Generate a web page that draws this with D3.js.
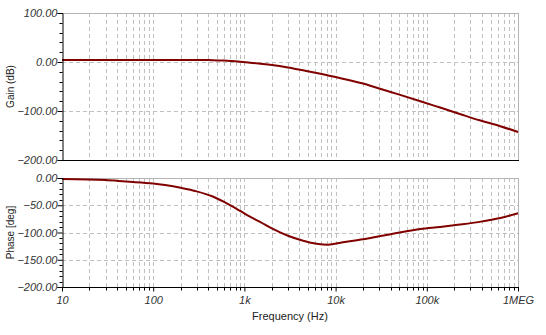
<!DOCTYPE html>
<html><head><meta charset="utf-8">
<script src="https://cdn.jsdelivr.net/npm/d3@7"></script>
<style>
body{margin:0;background:#fff;}
svg{display:block;font-family:"Liberation Sans",Arial,sans-serif;}
</style></head>
<body><svg id="c" width="546" height="335"></svg>
<script>
const freqs = [10, 30, 50, 100, 135, 200, 300, 450, 600, 900, 1150, 1500, 2000, 3000, 4400, 6200, 8300, 12000, 20000, 30000, 50000, 85000, 140000, 230000, 380000, 640000, 1000000];
const gainDb = [4, 4, 4, 4, 4, 4, 4, 3.8, 3, 0.5, -1.4, -3.5, -6, -11, -17, -22.5, -27.5, -34, -44, -54, -66.5, -80, -93, -106, -119, -131, -143];
const phaseDeg = [-2, -3.7, -6.5, -10, -13, -18, -24.5, -34, -44, -60.5, -71, -81, -92.5, -106, -115, -120.6, -122.4, -118, -112.5, -107, -100, -93.6, -89.8, -85.5, -80.5, -73.5, -64.8];
const xTickValues = [10, 100, 1000, 10000, 100000, 1000000];
const xTickLabels = ["10", "100", "1k", "10k", "100k", "1MEG"];
const gainTicks = [100, 0, -100, -200];
const phaseTicks = [0, -50, -100, -150, -200];

const svg = d3.select("#c");
const L = 62, R = 518;
const x = d3.scaleLog().domain([10, 1e6]).range([L, R]);
const yG = d3.scaleLinear().domain([-200, 100]).range([160, 13]);
const yP = d3.scaleLinear().domain([-200, 0]).range([287, 178]);

const minorX = [];
for (let d = 10; d < 1e6; d *= 10) for (let k = 2; k <= 9; k++) minorX.push(d * k);

function panel(y, ticks, minorStep, vals, title, showX) {
  const [d0, d1] = y.domain();
  const top = y(d1), bot = y(d0);
  const g = svg.append("g");
  g.selectAll(".vg").data(minorX.concat(xTickValues.slice(1, -1))).enter().append("line")
    .attr("x1", d => Math.round(x(d)) + 0.5).attr("x2", d => Math.round(x(d)) + 0.5)
    .attr("y1", top).attr("y2", bot)
    .attr("stroke", "#c0c0c0").attr("stroke-dasharray", "4,3");
  g.selectAll(".hg").data(ticks.filter(t => t !== d0 && t !== d1)).enter().append("line")
    .attr("x1", L).attr("x2", R)
    .attr("y1", d => Math.round(y(d)) + 0.5).attr("y2", d => Math.round(y(d)) + 0.5)
    .attr("stroke", "#c0c0c0").attr("stroke-dasharray", "4,3");
  g.append("line").attr("x1", L).attr("x2", R + 0.5).attr("y1", Math.round(top) + 0.5).attr("y2", Math.round(top) + 0.5).attr("stroke", "#b4b4b4");
  g.append("line").attr("x1", R + 0.5).attr("x2", R + 0.5).attr("y1", top).attr("y2", bot).attr("stroke", "#b4b4b4");
  const line = d3.line().x((d, i) => x(freqs[i])).y(d => y(d)).curve(d3.curveMonotoneX);
  g.append("path").datum(vals).attr("d", line).attr("fill", "none").attr("stroke", "#800000").attr("stroke-width", 2);
  const minorY = d3.range(d0, d1 + 0.001, minorStep).filter(v => !ticks.includes(v));
  const ax = d3.axisLeft(y).tickValues(ticks).tickSize(5).tickFormat(d => d3.format(".2f")(d));
  const ag = g.append("g").attr("transform", `translate(${L + 0.5},0)`).call(ax);
  ag.select(".domain").attr("stroke", "#000");
  ag.selectAll(".tick line").attr("stroke", "#000");
  ag.selectAll("text").attr("font-style", "italic").attr("font-size", 11).attr("fill", "#333").attr("x", -5);
  ag.selectAll(".mn").data(minorY).enter().append("line").attr("x1", -3).attr("x2", 0)
    .attr("y1", d => Math.round(y(d)) + 0.5).attr("y2", d => Math.round(y(d)) + 0.5).attr("stroke", "#000");
  g.append("line").attr("x1", L).attr("x2", R + 1).attr("y1", Math.round(bot) + 0.5).attr("y2", Math.round(bot) + 0.5).attr("stroke", "#000");
  if (showX) {
    const xa = d3.axisBottom(x).tickValues(xTickValues).tickSize(4).tickFormat((d, i) => xTickLabels[i]);
    const xg = g.append("g").attr("transform", `translate(0,${Math.round(bot) + 0.5})`).call(xa);
    xg.select(".domain").remove();
    xg.selectAll(".tick line").attr("stroke", "#000");
    xg.selectAll("text").attr("font-style", "italic").attr("font-size", 11).attr("fill", "#333").attr("dy", "0.9em");
    xg.selectAll(".mx").data(minorX).enter().append("line")
      .attr("x1", d => Math.round(x(d)) + 0.5).attr("x2", d => Math.round(x(d)) + 0.5)
      .attr("y1", 0).attr("y2", 3).attr("stroke", "#000");
  }
  svg.append("text").attr("transform", `translate(14,${(top + bot) / 2}) rotate(-90)`)
    .attr("text-anchor", "middle").attr("font-size", 10).attr("fill", "#222").text(title);
}

panel(yG, gainTicks, 20, gainDb, "Gain (dB)", false);
panel(yP, phaseTicks, 10, phaseDeg, "Phase [deg]", true);

svg.append("text").attr("x", 290).attr("y", 320).attr("text-anchor", "middle")
  .attr("font-size", 11).attr("fill", "#222").text("Frequency (Hz)");
</script></body></html>
